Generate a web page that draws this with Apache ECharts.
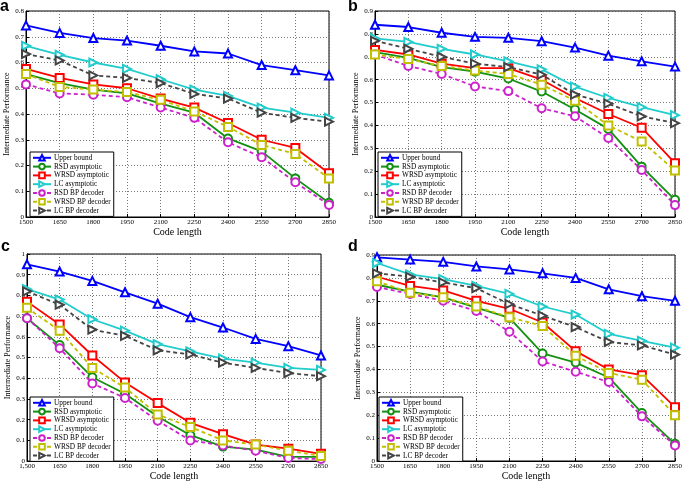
<!DOCTYPE html>
<html>
<head>
<meta charset="utf-8">
<script src="https://cdn.jsdelivr.net/npm/echarts@6/dist/echarts.min.js"></script>
<style>
  html, body { margin: 0; padding: 0; background: #fff; }
  #chart { width: 685px; height: 482px; }
</style>
</head>
<body>
<div id="chart"></div>
<script>
// categories / tick labels
var xTicks = ['1500', '1650', '1800', '1950', '2100', '2250', '2400', '2550', '2700', '2850'];
var xTicksC = ['1,500', '1650', '1800', '1950', '2100', '2250', '2400', '2550', '2700', '2850'];
var seriesNames = ['Upper bound', 'RSD asymptotic', 'WRSD asymptotic', 'LC asymptotic',
  'RSD BP decoder', 'WRSD BP decoder', 'LC BP decoder'];

// panel a
var aUpper = [0.744, 0.715, 0.695, 0.685, 0.665, 0.643, 0.635, 0.590, 0.570, 0.550];
var aRsdAsym = [0.555, 0.520, 0.495, 0.480, 0.440, 0.405, 0.305, 0.255, 0.150, 0.055];
var aWrsdAsym = [0.575, 0.540, 0.515, 0.500, 0.460, 0.425, 0.365, 0.300, 0.268, 0.170];
var aLcAsym = [0.665, 0.630, 0.600, 0.575, 0.535, 0.495, 0.470, 0.425, 0.405, 0.385];
var aRsdBp = [0.515, 0.480, 0.475, 0.465, 0.425, 0.385, 0.290, 0.232, 0.135, 0.047];
var aWrsdBp = [0.555, 0.505, 0.495, 0.485, 0.455, 0.410, 0.350, 0.280, 0.245, 0.150];
var aLcBp = [0.633, 0.608, 0.550, 0.540, 0.520, 0.478, 0.460, 0.405, 0.385, 0.370];

// panel b
var bUpper = [0.840, 0.830, 0.805, 0.787, 0.783, 0.768, 0.740, 0.705, 0.680, 0.657];
var bRsdAsym = [0.720, 0.695, 0.655, 0.635, 0.605, 0.548, 0.470, 0.385, 0.220, 0.075];
var bWrsdAsym = [0.730, 0.710, 0.670, 0.650, 0.650, 0.600, 0.520, 0.450, 0.390, 0.235];
var bLcAsym = [0.780, 0.765, 0.735, 0.710, 0.680, 0.645, 0.570, 0.520, 0.480, 0.445];
var bRsdBp = [0.710, 0.660, 0.625, 0.570, 0.550, 0.475, 0.440, 0.345, 0.205, 0.052];
var bWrsdBp = [0.710, 0.690, 0.660, 0.640, 0.625, 0.578, 0.508, 0.400, 0.330, 0.203];
var bLcBp = [0.770, 0.735, 0.700, 0.670, 0.655, 0.622, 0.535, 0.495, 0.440, 0.410];

// panel c
var cUpper = [0.950, 0.915, 0.870, 0.815, 0.760, 0.695, 0.645, 0.590, 0.555, 0.510];
var cRsdAsym = [0.690, 0.560, 0.405, 0.325, 0.215, 0.125, 0.070, 0.055, 0.020, 0.020];
var cWrsdAsym = [0.770, 0.660, 0.510, 0.380, 0.280, 0.185, 0.130, 0.080, 0.060, 0.035];
var cLcAsym = [0.830, 0.780, 0.685, 0.630, 0.565, 0.530, 0.495, 0.475, 0.450, 0.440];
var cRsdBp = [0.690, 0.545, 0.375, 0.305, 0.195, 0.100, 0.075, 0.050, 0.015, 0.010];
var cWrsdBp = [0.740, 0.630, 0.450, 0.355, 0.225, 0.165, 0.100, 0.080, 0.050, 0.025];
var cLcBp = [0.820, 0.755, 0.635, 0.605, 0.535, 0.515, 0.475, 0.450, 0.425, 0.410];

// panel d
var dUpper = [0.890, 0.880, 0.870, 0.850, 0.837, 0.820, 0.800, 0.750, 0.720, 0.700];
var dRsdAsym = [0.770, 0.740, 0.715, 0.670, 0.625, 0.470, 0.430, 0.365, 0.210, 0.075];
var dWrsdAsym = [0.805, 0.765, 0.745, 0.700, 0.665, 0.605, 0.480, 0.400, 0.375, 0.235];
var dLcAsym = [0.865, 0.815, 0.795, 0.765, 0.730, 0.675, 0.640, 0.555, 0.525, 0.495];
var dRsdBp = [0.760, 0.730, 0.700, 0.655, 0.565, 0.435, 0.390, 0.345, 0.195, 0.068];
var dWrsdBp = [0.785, 0.735, 0.715, 0.675, 0.628, 0.590, 0.460, 0.385, 0.355, 0.200];
var dLcBp = [0.820, 0.805, 0.780, 0.755, 0.685, 0.635, 0.585, 0.520, 0.505, 0.465];

var yMaxes = [0.8, 0.9, 1.0, 0.9];

var FONT = '"Liberation Serif", "DejaVu Serif", serif';

var lineStyles = [
  {color: '#0000ff', symbol: 'emptyTriangle', dashed: false, rotate: 0},
  {color: '#129012', symbol: 'emptyCircle', dashed: false, rotate: 0},
  {color: '#ff0000', symbol: 'emptyRect', dashed: false, rotate: 0},
  {color: '#22cccc', symbol: 'emptyTriangle', dashed: false, rotate: -90},
  {color: '#cc22cc', symbol: 'emptyCircle', dashed: true, rotate: 0},
  {color: '#c0c000', symbol: 'emptyRect', dashed: true, rotate: 0},
  {color: '#444444', symbol: 'emptyTriangle', dashed: true, rotate: -90}
];

var panels = [
  {grid: {left: 26, top: 11, width: 303, height: 206}, ticks: xTicks,
    data: [aUpper, aRsdAsym, aWrsdAsym, aLcAsym, aRsdBp, aWrsdBp, aLcBp],
    legend: {left: 30, top: 152}, letter: {text: 'a', left: 0, top: -1}},
  {grid: {left: 375, top: 11, width: 304, height: 206}, ticks: xTicks,
    data: [bUpper, bRsdAsym, bWrsdAsym, bLcAsym, bRsdBp, bWrsdBp, bLcBp],
    legend: {left: 378, top: 152}, letter: {text: 'b', left: 348, top: -1}},
  {grid: {left: 27, top: 254, width: 294, height: 208}, ticks: xTicksC,
    data: [cUpper, cRsdAsym, cWrsdAsym, cLcAsym, cRsdBp, cWrsdBp, cLcBp],
    legend: {left: 30, top: 397}, letter: {text: 'c', left: 1, top: 239}},
  {grid: {left: 377, top: 255, width: 301, height: 206}, ticks: xTicks,
    data: [dUpper, dRsdAsym, dWrsdAsym, dLcAsym, dRsdBp, dWrsdBp, dLcBp],
    legend: {left: 379, top: 397}, letter: {text: 'd', left: 348, top: 239}}
];

var option = {
  animation: false,
  backgroundColor: '#fff',
  title: [],
  legend: [],
  grid: [],
  xAxis: [],
  yAxis: [],
  series: []
};

panels.forEach(function(p, i){
  option.title.push({
    text: p.letter.text, left: p.letter.left, top: p.letter.top, padding: 0,
    textStyle: {fontSize: 16, fontWeight: 'bold', fontFamily: 'Arial, "Liberation Sans", sans-serif', color: '#000'}
  });
  option.grid.push({
    left: p.grid.left, top: p.grid.top, width: p.grid.width, height: p.grid.height,
    show: true, borderColor: '#000', borderWidth: 1, backgroundColor: '#fff'
  });
  option.legend.push({
    left: p.legend.left, top: p.legend.top, orient: 'vertical',
    data: seriesNames,
    padding: [2, 3, 2, 2], itemGap: 1.2, itemWidth: 18, itemHeight: 7,
    borderColor: '#000', borderWidth: 1, backgroundColor: '#fff',
    textStyle: {fontSize: 7.3, fontFamily: FONT, color: '#000', padding: [0, 0, 0, -2]},
    selectedMode: false
  });
  option.xAxis.push({
    type: 'category', gridIndex: i, data: p.ticks, boundaryGap: false,
    name: 'Code length', nameLocation: 'middle', nameGap: 9,
    nameTextStyle: {fontSize: 10, fontFamily: FONT, color: '#000'},
    axisLine: {lineStyle: {color: '#000', width: 1}},
    axisTick: {inside: true, length: 3, lineStyle: {color: '#000'}, alignWithLabel: true},
    axisLabel: {interval: 0, fontSize: 7, fontFamily: FONT, color: '#000', margin: 2},
    splitLine: {show: true, lineStyle: {color: '#555', type: [1, 2], width: 0.8}}
  });
  option.yAxis.push({
    type: 'value', gridIndex: i, min: 0, max: yMaxes[i], interval: 0.1,
    name: 'Intermediate Performance', nameLocation: 'middle', nameGap: 14,
    nameTextStyle: {fontSize: 8, fontFamily: FONT, color: '#000'},
    axisLine: {show: true, lineStyle: {color: '#000', width: 1}},
    axisTick: {show: true, inside: true, length: 3, lineStyle: {color: '#000'}},
    axisLabel: {fontSize: 7, fontFamily: FONT, color: '#000', margin: 2,
      formatter: function(v){ return String(+v.toFixed(1)); }},
    splitLine: {show: true, lineStyle: {color: '#555', type: [1, 2], width: 0.8}}
  });
  p.data.forEach(function(values, k){
    var st = lineStyles[k];
    option.series.push({
      name: seriesNames[k], type: 'line', xAxisIndex: i, yAxisIndex: i,
      data: values,
      symbol: st.symbol, symbolSize: 8, symbolRotate: st.rotate,
      showAllSymbol: true,
      lineStyle: {color: st.color, width: 1.8, type: st.dashed ? [4, 3] : 'solid'},
      itemStyle: {color: st.color, borderWidth: 1.4},
      z: 2 + k
    });
  });
});

var chart = echarts.init(document.getElementById('chart'));
chart.setOption(option);
</script>
</body>
</html>
